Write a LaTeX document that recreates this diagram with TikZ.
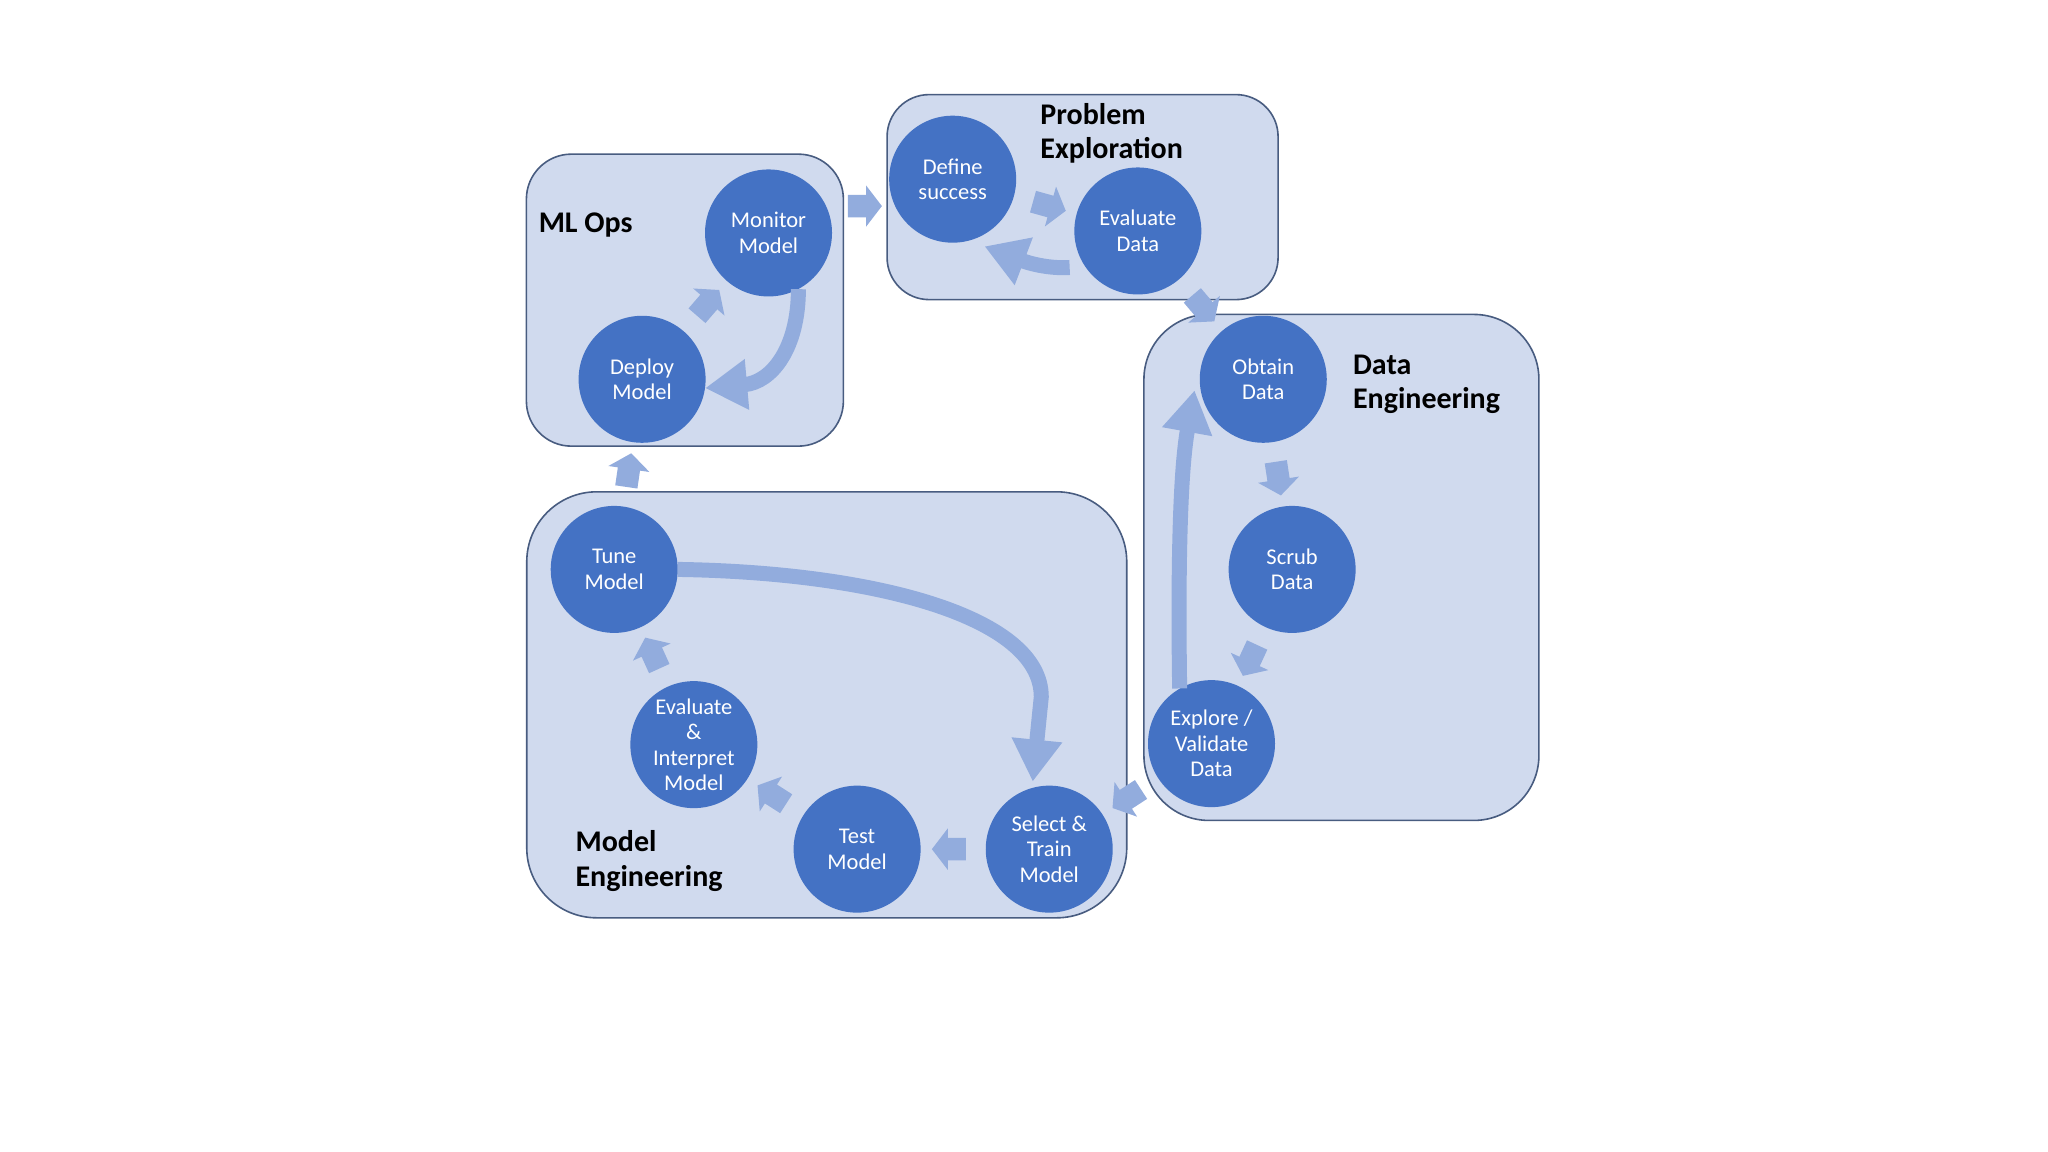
\documentclass[tikz,border=0pt]{standalone}
\usepackage{fontspec}
\setmainfont{Carlito}
\usetikzlibrary{shapes.arrows,arrows.meta,calc}
\definecolor{boxfill}{RGB}{208,218,238}
\definecolor{boxline}{RGB}{72,92,128}
\definecolor{circ}{RGB}{68,114,196}
\definecolor{arr}{RGB}{146,172,221}
\tikzset{
  box/.style={draw=boxline, line width=1.6pt, fill=boxfill, inner sep=0pt},
  proc/.style={circle, fill=circ, minimum size=127pt, inner sep=0pt, text=white,
    align=center, font=\fontsize{22.5}{25.5}\selectfont},
  ttl/.style={anchor=west, align=left, inner sep=0pt, text=black,
    font=\fontsize{30}{34.5}\selectfont\bfseries},
  blk/.style={single arrow, fill=arr, draw=none, minimum height=34pt,
    text height=22pt, text depth=0pt, text width=0pt,
    single arrow head extend=9.5pt,
    single arrow tip angle=105, inner sep=0pt},
  blks/.style={blk, sloped, allow upside down},
  curv/.style={draw=arr, line width=15pt,
    -{Triangle[width=48pt,length=42pt]}}
}
\begin{document}
\begin{tikzpicture}[x=0.9955pt,y=-0.9955pt]
  \path[use as bounding box, fill=white] (0,0) rectangle (2057.3,1157.2);

  % group boxes
  \node[box, rounded corners=45pt, minimum width=317pt, minimum height=292pt] (mlops) at (688,301.5) {};
  \node[box, rounded corners=42pt, minimum width=391pt, minimum height=205pt] (pe) at (1087.5,198) {};
  \node[box, rounded corners=65pt, minimum width=395pt, minimum height=506pt] (de) at (1347.5,570) {};
  \node[box, rounded corners=70pt, minimum width=600pt, minimum height=426pt] (me) at (830.5,708) {};

  % process circles
  \node[proc] (monitor)  at (772,234)  {Monitor\\Model};
  \node[proc] (deploy)   at (645,381)  {Deploy\\Model};
  \node[proc] (define)   at (957,180)  {Define\\success};
  \node[proc] (evaldata) at (1143,232) {Evaluate\\Data};
  \node[proc] (obtain)   at (1269,381) {Obtain\\Data};
  \node[proc] (scrub)    at (1298,572) {Scrub\\Data};
  \node[proc] (explore)  at (1217,747) {Explore /\\Validate\\Data};
  \node[proc] (select)   at (1054,853) {Select \&\\Train\\Model};
  \node[proc] (test)     at (861,853)  {Test\\Model};
  \node[proc] (evalint)  at (697,748)  {Evaluate\\\&\\Interpret\\Model};
  \node[proc] (tune)     at (617,572)  {Tune\\Model};

  % small block arrows
  \path (monitor) -- node[blk, pos=.5] (a1) {} (define);
  \path (define) -- node[blks, pos=.5] (a2) {} (evaldata);
  \path (evaldata) -- node[blks, pos=.5] (a3) {} (obtain);
  \path (obtain) -- node[blks, pos=.5] (a4) {} (scrub);
  \path (scrub) -- node[blks, pos=.5] (a5) {} (explore);
  \path (explore) -- node[blks, pos=.5] (a6) {} (select);
  \path (select) -- node[blks, pos=.5] (a7) {} (test);
  \path (test) -- node[blks, pos=.5] (a8) {} (evalint);
  \path (evalint) -- node[blks, pos=.5] (a9) {} (tune);
  \path (tune) -- node[blks, pos=.5] (a10) {} (deploy);
  \path (deploy) -- node[blks, pos=.5] (a11) {} (monitor);

  % curved arrows
  \draw[curv] ([xshift=-16pt]evaldata.215) .. controls (1055,270) and (1035,265) .. ([yshift=-12pt]define.-60);
  \draw[curv] (monitor.-62) .. controls (802,350) and (775,384) .. (deploy.-8);
  \draw[curv] (tune.east) .. controls (880,575) and (1046,620) .. (1046,700) -- ([yshift=6pt]select.105);
  \draw[curv] (explore.120) .. controls (1183,560) and (1186,470) .. ([xshift=-6pt]obtain.190);

  % titles
  \node[ttl] (tmlops) at (541,226) {ML Ops};
  \node[ttl] (tpe) at (1045,134) {Problem\\Exploration};
  \node[ttl] (tde) at (1359,386) {Data\\Engineering};
  \node[ttl] (tme) at (578,865) {Model\\Engineering};
\end{tikzpicture}
\end{document}
